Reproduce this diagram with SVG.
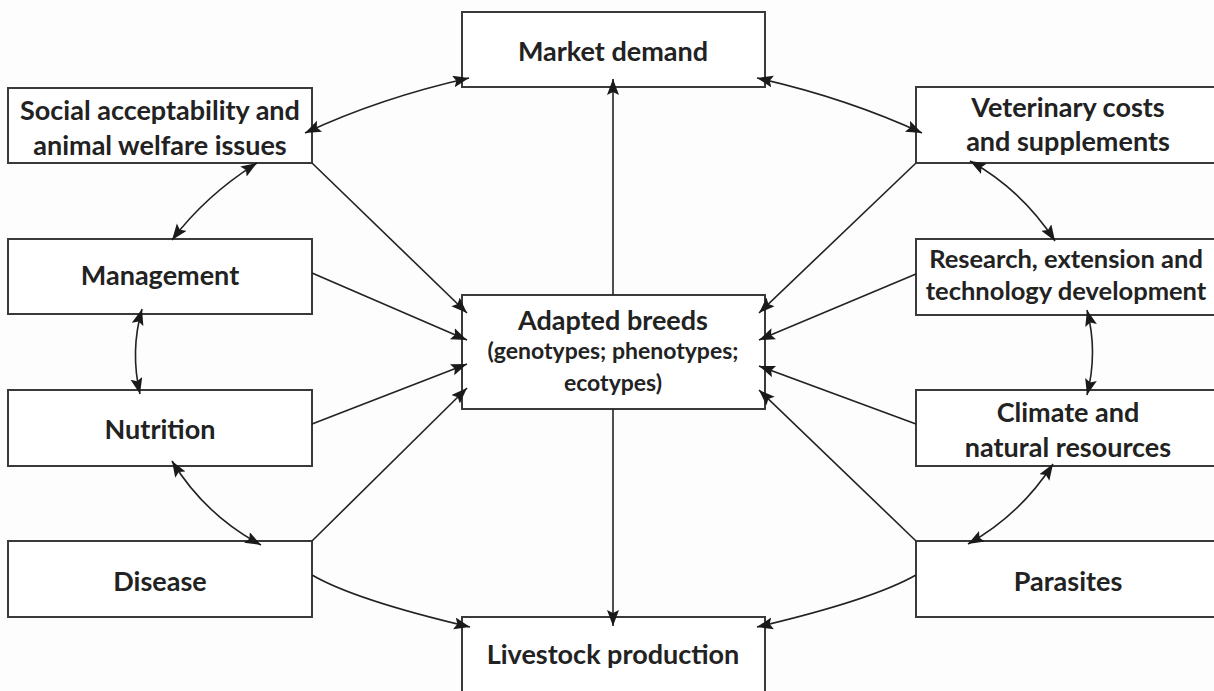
<svg xmlns="http://www.w3.org/2000/svg" width="1214" height="691" viewBox="0 0 1214 691">
<style>
.box{fill:#fff;stroke:#3a3a3a;stroke-width:2}
.t{font-family:Lato,"Liberation Sans",sans-serif;font-weight:bold;font-size:27px;fill:#222;text-anchor:middle}
.s{font-size:23px}
.r{font-size:25.5px}
.c{fill:none;stroke:#222;stroke-width:1.6}
.e{marker-end:url(#ah)}
.d{marker-start:url(#ah);marker-end:url(#ah)}
</style>
<defs>
<marker id="ah" markerUnits="userSpaceOnUse" markerWidth="18" markerHeight="14" refX="16" refY="6" orient="auto-start-reverse" viewBox="0 0 18 14">
<path d="M0,0 L16,6 L0,12 L3,6 z" fill="#1a1a1a"/>
</marker>
</defs>
<rect width="1214" height="691" fill="#fdfdfd"/>
<g id="market"><rect class="box" x="462" y="12" width="303" height="75"/><text class="t" x="613" y="61">Market demand</text></g>
<g id="social"><rect class="box" x="8" y="88" width="304" height="75"/><text class="t" x="160" y="120">Social acceptability and</text><text class="t" x="160" y="155">animal welfare issues</text></g>
<g id="vet"><rect class="box" x="916" y="87" width="304" height="76"/><text class="t" x="1068" y="117">Veterinary costs</text><text class="t" x="1068" y="151">and supplements</text></g>
<g id="management"><rect class="box" x="8" y="239" width="304" height="75"/><text class="t" x="160" y="285">Management</text></g>
<g id="research"><rect class="box" x="916" y="239" width="304" height="76"/><text class="t r" x="1066" y="268">Research, extension and</text><text class="t r" x="1066" y="300">technology development</text></g>
<g id="adapted"><rect class="box" x="462" y="295" width="303" height="114"/><text class="t" x="613" y="330">Adapted breeds</text><text class="t s" x="613" y="359">(genotypes; phenotypes;</text><text class="t s" x="613" y="391">ecotypes)</text></g>
<g id="nutrition"><rect class="box" x="8" y="390" width="304" height="76"/><text class="t" x="160" y="439">Nutrition</text></g>
<g id="climate"><rect class="box" x="916" y="390" width="304" height="76"/><text class="t" x="1068" y="422">Climate and</text><text class="t" x="1068" y="457">natural resources</text></g>
<g id="disease"><rect class="box" x="8" y="541" width="304" height="76"/><text class="t" x="160" y="591">Disease</text></g>
<g id="parasites"><rect class="box" x="916" y="541" width="304" height="76"/><text class="t" x="1068" y="591">Parasites</text></g>
<g id="livestock"><rect class="box" x="462" y="617" width="303" height="90"/><text class="t" x="613" y="664">Livestock production</text></g>
<g id="connectors">
<path class="c d" d="M305,133 Q380,98 469,78"/>
<path class="c d" d="M757,78 Q846,98 922,133"/>
<path class="c d" d="M257,163 Q206,195 172,240"/>
<path class="c d" d="M142,309 Q130,351 140,394"/>
<path class="c d" d="M172,461 Q205,515 261,545"/>
<path class="c d" d="M970,161 Q1022,190 1055,241"/>
<path class="c d" d="M1087,310 Q1098,352 1087,395"/>
<path class="c d" d="M1053,464 Q1020,515 968,544"/>
<path class="c e" d="M613,295 L613,79"/>
<path class="c e" d="M613,409 L613,626"/>
<path class="c e" d="M312,163 L467,313"/>
<path class="c e" d="M312,273 L467,340"/>
<path class="c e" d="M312,424 L467,364"/>
<path class="c e" d="M312,541 L467,388"/>
<path class="c e" d="M916,163 L759,313"/>
<path class="c e" d="M916,274 L759,340"/>
<path class="c e" d="M916,424 L759,366"/>
<path class="c e" d="M916,541 L759,390"/>
<path class="c e" d="M312,575 Q355,600 470,627"/>
<path class="c e" d="M916,575 Q872,600 757,627"/>
</g>
</svg>
